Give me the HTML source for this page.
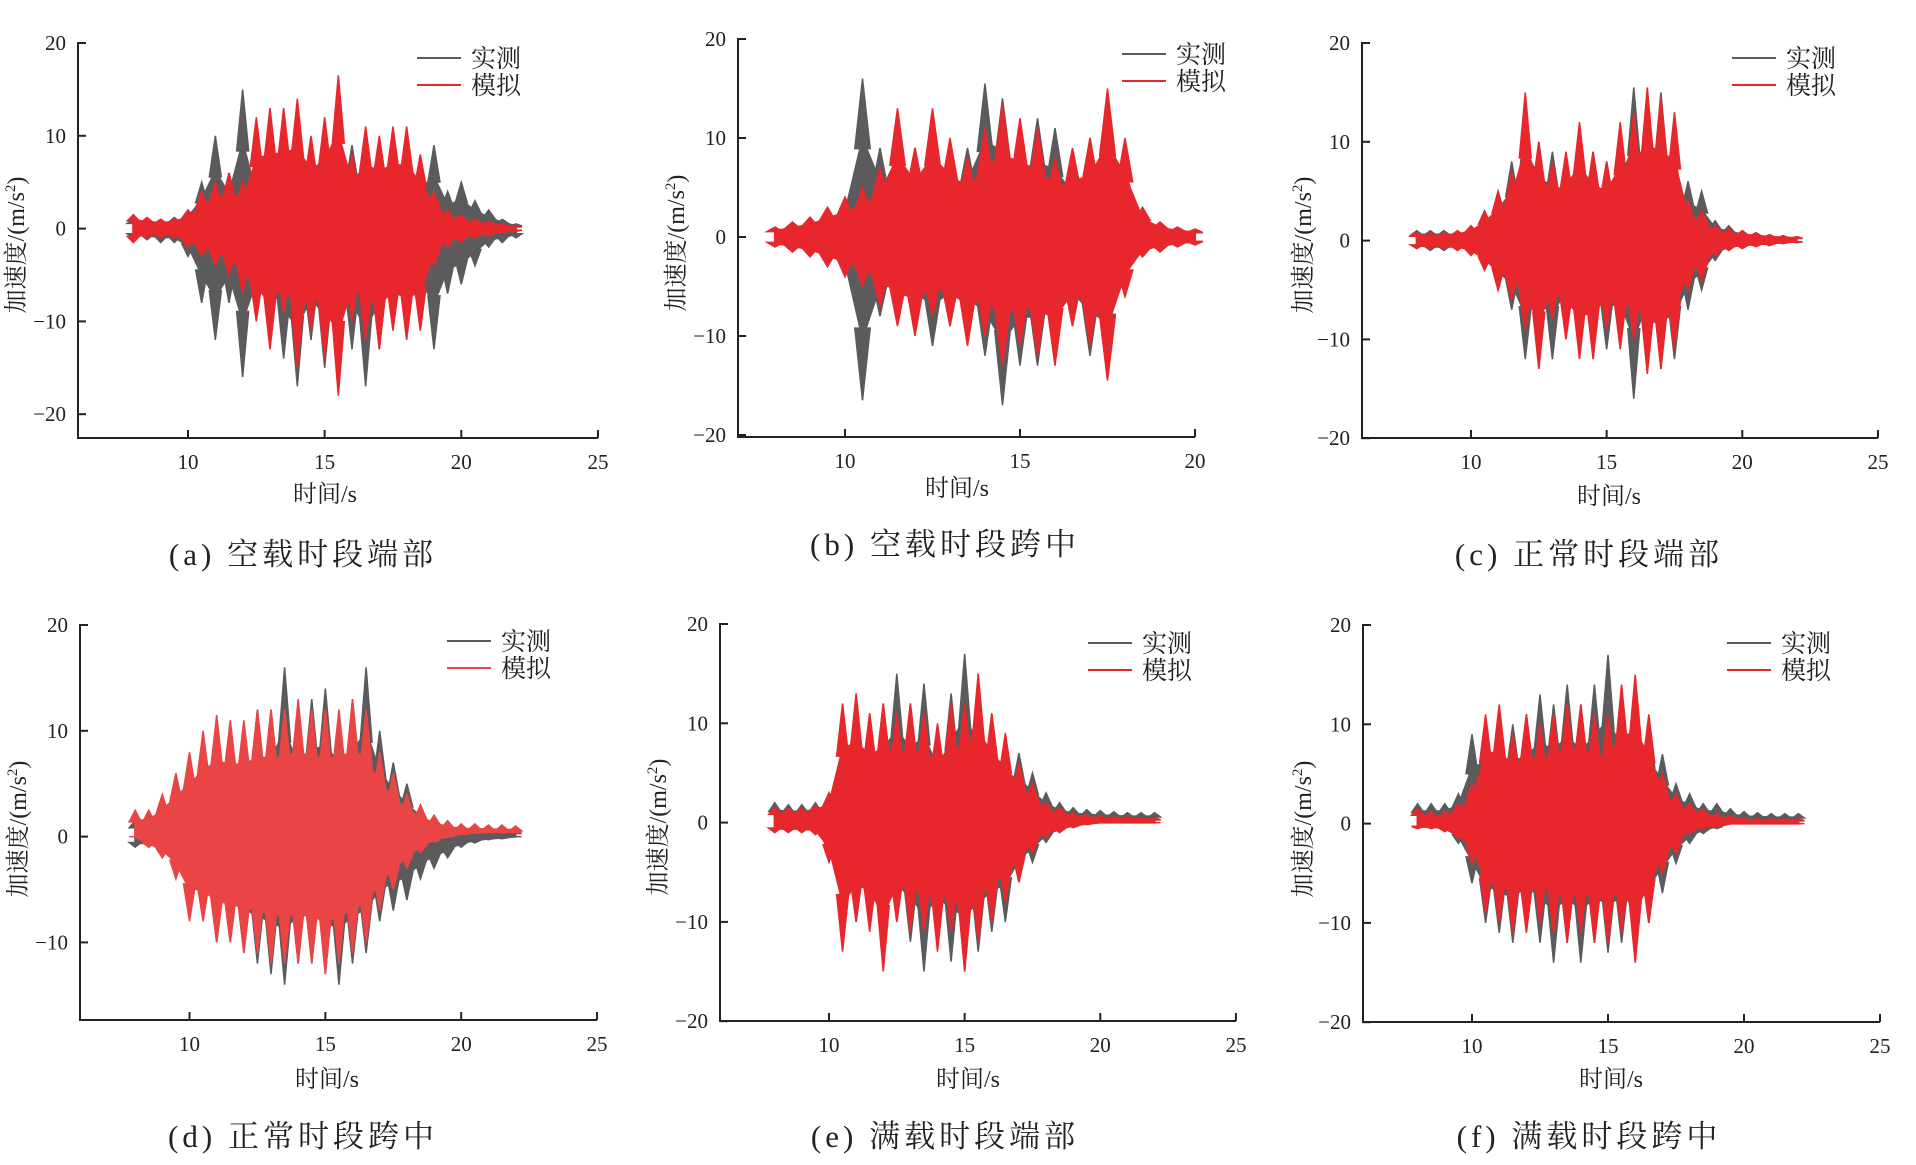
<!DOCTYPE html>
<html><head><meta charset="utf-8">
<style>
body{margin:0;background:#fff;}
svg{display:block;}
text{font-family:"Liberation Serif","Noto Serif CJK SC","Noto Sans CJK SC",serif;fill:#222;}
</style></head>
<body>
<svg id="fig" width="1916" height="1165" viewBox="0 0 1916 1165" xmlns="http://www.w3.org/2000/svg"></svg>
<script>
// ===== data: time grids =====
const timeA = [8,8.5,9,9.5,10,10.5,11,11.5,12,12.5,13,13.5,14,14.5,15,15.5,16,16.5,17,17.5,18,18.5,19,19.5,20,20.5,21,21.5,22];
const timeB = [8,8.5,9,9.5,10,10.5,11,11.5,12,12.5,13,13.5,14,14.5,15,15.5,16,16.5,17,17.5,18,18.5,19,19.5,20];
const xTicks25 = [10,15,20,25];
const xTicks20 = [10,15,20];
const yTicks = [20,10,0,-10,-20];
const yTicksD = [20,10,0,-10];
// panel a
const aMeasUp = [1,1,1,1.2,2,5,10,6,15,6,8,9,9,8,9,11,9,9,9,9,8,7,9,4,5,3,2,1,0.5];
const aMeasLo = [-1,-1.2,-1.5,-1.5,-3,-8,-12,-8,-16,-9,-10,-14,-17,-12,-15,-14,-13,-17,-13,-10,-10,-9,-13,-7,-6,-4,-2,-1.5,-1];
const aSimUp = [1.5,1.2,1,1,2,4,5,6,5,12,13,13,14,10,12,16.5,8,11,10,11,11,8,4,2,1.5,1,0.8,0.5,0.3];
const aSimLo = [-1.5,-1,-1,-1,-2,-3,-4,-5,-7,-10,-13,-9,-15,-11,-14,-18,-10,-12,-13,-11,-12,-11,-4,-2,-1.5,-1,-0.8,-0.5,-0.3];
// panel b
const bMeasUp = [1,1.5,2,3,4,16,9,10,9,11,9,9,15.5,14,11,12,11,7,10,14.5,7,2.5,1.5,1,0.8];
const bMeasLo = [-1,-1.5,-2,-3,-4,-16.5,-8,-8,-9,-11,-9,-10,-12,-17,-13,-13,-11,-9,-12,-14,-6,-2,-1.5,-1,-0.8];
const bSimUp = [1,1.5,2,3,4,5,7,13,9,13,10,8,11,13.5,12,11,8,9,10,15,10,3,1.5,1,0.8];
const bSimLo = [-1,-1.5,-2,-3,-4,-5,-7,-9,-10,-8,-9,-11,-10,-13,-11,-12,-13,-9,-11,-14.5,-6,-2,-1.5,-1,-0.8];
// panel c
const cMeasUp = [1,1,1,1,1.5,3,5,8,12,10,9,8,8,9,8,10,15.5,12,15,9,6,5,2,1.5,1,0.8,0.6,0.5,0.4];
const cMeasLo = [-0.8,-1,-1,-1,-1.5,-3,-5,-7,-12,-10,-12,-8,-10,-9,-11,-10,-16,-10,-13,-12,-7,-5,-2,-1,-0.8,-0.6,-0.5,-0.3,-0.2];
const cSimUp = [0.8,0.8,0.8,1,1.5,3,5,7,15,10,8,9,12,9,8,12,13,15.5,14.5,13,4,3,1.5,1.2,1,0.8,0.6,0.5,0.4];
const cSimLo = [-0.8,-0.8,-0.8,-1,-1.5,-3,-5,-6,-9,-13,-8,-10,-12,-12,-9,-11,-10,-13.5,-13,-11,-5,-4,-1.5,-1,-0.8,-0.6,-0.5,-0.3,-0.2];
// panel d
const dMeasUp = [1.5,1.5,2,3,6,8,10,9,10,12,12,16,11,13,14,11,13,16,10,7,5,3,2,1.5,1,1,0.8,0.6,0.5];
const dMeasLo = [-1,-1,-2,-3,-5,-7,-10,-10,-11,-12,-13,-14,-12,-12,-13,-14,-12,-11,-8,-7,-6,-4,-3,-2,-1,-0.6,-0.3,-0.2,0];
const dSimUp = [2.5,2.5,4,6,8,10,11.5,11,11,12,12,12,13,12,12,12,13,12,8,6,4,3,2,1.5,1.2,1.2,1.1,1.1,1];
const dSimLo = [0,-1,-2,-4,-8,-8,-10,-10,-11,-11,-12,-12,-12,-12,-13,-12,-11,-10,-7,-5,-3,-1.5,-0.5,0,0.4,0.6,0.7,0.7,0.7];
// panel e
const eMeasUp = [2,1.8,1.8,2,3,6,10,11,12,15,12,14,9,13,17,13,11,8,7,5,3,2,1.5,1.3,1.2,1.1,1,1,1];
const eMeasLo = [-1,-1,-1,-1.2,-3,-8,-10,-10,-12,-10,-12,-15,-12,-14,-15,-13,-11,-10,-6,-4,-2,-1,-0.5,0.2,0.4,0.5,0.5,0.5,0.5];
const eSimUp = [1.5,1.5,1.5,1.8,3,12,13,11,12,11,12,11,10,12,12,15,11,9,6,4,2,1.5,1,0.8,0.7,0.6,0.6,0.5,0.5];
const eSimLo = [-1,-1,-1,-1.2,-4,-13,-10,-11,-15,-10,-11,-11,-13,-11,-15,-12,-10,-8,-6,-3,-1.5,-1,-0.5,-0.2,0,0,0,0,0];
// panel f
const fMeasUp = [2,2,2,3,9,10,11,10,11,13,12,14,12,14,17,12,13,10,7,4,3,2,2,1.5,1.2,1.1,1,1,1];
const fMeasLo = [-0.5,-0.5,-0.8,-2,-6,-10,-11,-12,-10,-12,-14,-12,-14,-12,-13,-12,-13,-10,-7,-4,-2,-1,-0.5,0,0.3,0.5,0.5,0.5,0.5];
const fSimUp = [1.5,1.2,1.2,2,4,11,12,9,11,10,11,12,12,11,11,14,15,11,5,3,2,1.5,1,0.8,0.6,0.5,0.5,0.5,0.5];
const fSimLo = [-0.5,-0.5,-0.8,-1.5,-4,-9,-10,-11,-11,-10,-11,-12,-11,-12,-12,-11,-14,-10,-5,-3,-1,-0.5,-0.3,0,0,0,0,0,0];

const NS = "http://www.w3.org/2000/svg";
const svg = document.getElementById('fig');
function mk(tag, attrs, parent){
  const e = document.createElementNS(NS, tag);
  for (const k in attrs) e.setAttribute(k, attrs[k]);
  (parent||svg).appendChild(e);
  return e;
}
const GRAY = '#5b5b5d', RED = '#e8272d';
const CORE = 0.62;

function panel(p){
  const g = mk('g', {});
  
  
  const xs = t => p.x10 + (t - 10) * p.pxs;
  const ys = v => p.y20 + (20 - v) * p.pyu;
  const yBottom = p.axisY;
  const xRight = xs(p.tEnd);
  const ax = mk('path', {d:`M${p.axisX+8} ${ys(20)} H${p.axisX} V${yBottom} H${xRight}`, fill:'none', stroke:'#222', 'stroke-width':2}, g);
  
  
  p.yt.forEach(v => {
    const y = ys(v);
    mk('line', {x1:p.axisX, x2:p.axisX+8, y1:y, y2:y, stroke:'#222','stroke-width':2}, g);
    const t = mk('text', {x:p.axisX-12, y:y+7, 'text-anchor':'end','font-size':21}, g);
    t.textContent = v < 0 ? '\u2212' + Math.abs(v) : String(v);
    
    
  });
  p.xt.forEach(v => {
    const x = xs(v);
    mk('line', {x1:x, x2:x, y1:yBottom, y2:yBottom-8, stroke:'#222','stroke-width':2}, g);
    const t = mk('text', {x:x, y:yBottom+31, 'text-anchor':'middle','font-size':21}, g);
    t.textContent = String(v);
    
    
  });
  function series(time, up, lo, color, name){
    // dense core
    let d = '';
    time.forEach((t,i) => { d += (i?'L':'M') + xs(t).toFixed(1) + ' ' + ys(up[i]*CORE).toFixed(1); });
    for (let i = time.length-1; i >= 0; i--) d += 'L' + xs(time[i]).toFixed(1) + ' ' + ys(lo[i]*CORE).toFixed(1);
    d += 'Z';
    const s = mk('path', {d:d, fill:color, stroke:color, 'stroke-width':2}, g);
    
    
    // peak spikes (narrow triangles to full envelope)
    time.forEach((t,i) => {
      const x = xs(t), w = p.pxs * 0.22;
      const pu = mk('path', {d:`M${x-w} ${ys(up[i]*CORE*0.9)} L${x} ${ys(up[i])} L${x+w} ${ys(up[i]*CORE*0.9)} Z`, fill:color, stroke:color, 'stroke-width':1.5}, g);
      
      
      const pl = mk('path', {d:`M${x-w} ${ys(lo[i]*CORE*0.9)} L${x} ${ys(lo[i])} L${x+w} ${ys(lo[i]*CORE*0.9)} Z`, fill:color, stroke:color, 'stroke-width':1.5}, g);
      
      
    });
  }
  series(p.time, p.mUp, p.mLo, GRAY, 'measured');
  series(p.time, p.sUp, p.sLo, p.red || RED, 'simulated');
  const lg = mk('g', {}, g);
  
  
  [[GRAY,'实测',0],[p.red||RED,'模拟',1]].forEach(([c,txt,i]) => {
    const y = p.legY + i * 27;
    mk('line', {x1:p.legX, x2:p.legX+44, y1:y, y2:y, stroke:c, 'stroke-width':2}, lg);
    const t = mk('text', {x:p.legX+54, y:y+9, 'font-size':25}, lg);
    t.textContent = txt;
    
    
  });
  const xt = mk('text', {x:p.xtX, y:p.xtY, 'text-anchor':'middle','font-size':24}, g);
  xt.textContent = '时间/s';
  
  
  const yt = mk('text', {x:0, y:0, 'text-anchor':'middle','font-size':24, transform:`translate(${p.ytX},${p.ytY}) rotate(-90)`}, g);
  yt.innerHTML = '加速度/(m/s<tspan font-size="15" dy="-9">2</tspan><tspan dy="9">)</tspan>';
  
  
  const cap = mk('text', {x:p.capX, y:p.capY, 'text-anchor':'middle','font-size':31,'letter-spacing':'4'}, g);
  cap.textContent = p.cap;
  
  
}

panel({id:'a', axisX:78, x10:188, pxs:27.33, tEnd:25, y20:43, pyu:9.28, axisY:438, yt:yTicks, xt:xTicks25,
  time:timeA, mUp:aMeasUp, mLo:aMeasLo, sUp:aSimUp, sLo:aSimLo, legX:417, legY:58,
  xtX:325, xtY:502, ytX:24, ytY:245, capX:303, capY:565, cap:'(a) 空载时段端部'});
panel({id:'b', axisX:738, x10:845, pxs:35, tEnd:20, y20:39, pyu:9.9, axisY:437, yt:yTicks, xt:xTicks20,
  time:timeB, mUp:bMeasUp, mLo:bMeasLo, sUp:bSimUp, sLo:bSimLo, legX:1122, legY:54,
  xtX:957, xtY:496, ytX:684, ytY:243, capX:945, capY:555, cap:'(b) 空载时段跨中'});
panel({id:'c', axisX:1362, x10:1471, pxs:27.13, tEnd:25, y20:43, pyu:9.88, axisY:438, yt:yTicks, xt:xTicks25,
  time:timeA, mUp:cMeasUp, mLo:cMeasLo, sUp:cSimUp, sLo:cSimLo, legX:1732, legY:58,
  xtX:1609, xtY:504, ytX:1311, ytY:245, capX:1589, capY:565, cap:'(c) 正常时段端部'});
panel({id:'d', axisX:80, x10:189.5, pxs:27.17, tEnd:25, y20:625, pyu:10.58, axisY:1020, yt:yTicksD, xt:xTicks25,
  time:timeA, mUp:dMeasUp, mLo:dMeasLo, sUp:dSimUp, sLo:dSimLo, red:'#ea4545', legX:447, legY:641,
  xtX:327, xtY:1087, ytX:26, ytY:829, capX:303, capY:1147, cap:'(d) 正常时段跨中'});
panel({id:'e', axisX:720, x10:829, pxs:27.13, tEnd:25, y20:624, pyu:9.93, axisY:1021, yt:yTicks, xt:xTicks25,
  time:timeA, mUp:eMeasUp, mLo:eMeasLo, sUp:eSimUp, sLo:eSimLo, legX:1088, legY:643,
  xtX:968, xtY:1087, ytX:666, ytY:827, capX:945, capY:1147, cap:'(e) 满载时段端部'});
panel({id:'f', axisX:1363, x10:1472, pxs:27.2, tEnd:25, y20:625, pyu:9.93, axisY:1022, yt:yTicks, xt:xTicks25,
  time:timeA, mUp:fMeasUp, mLo:fMeasLo, sUp:fSimUp, sLo:fSimLo, legX:1727, legY:643,
  xtX:1611, xtY:1087, ytX:1311, ytY:829, capX:1589, capY:1147, cap:'(f) 满载时段跨中'});
</script>
</body></html>
